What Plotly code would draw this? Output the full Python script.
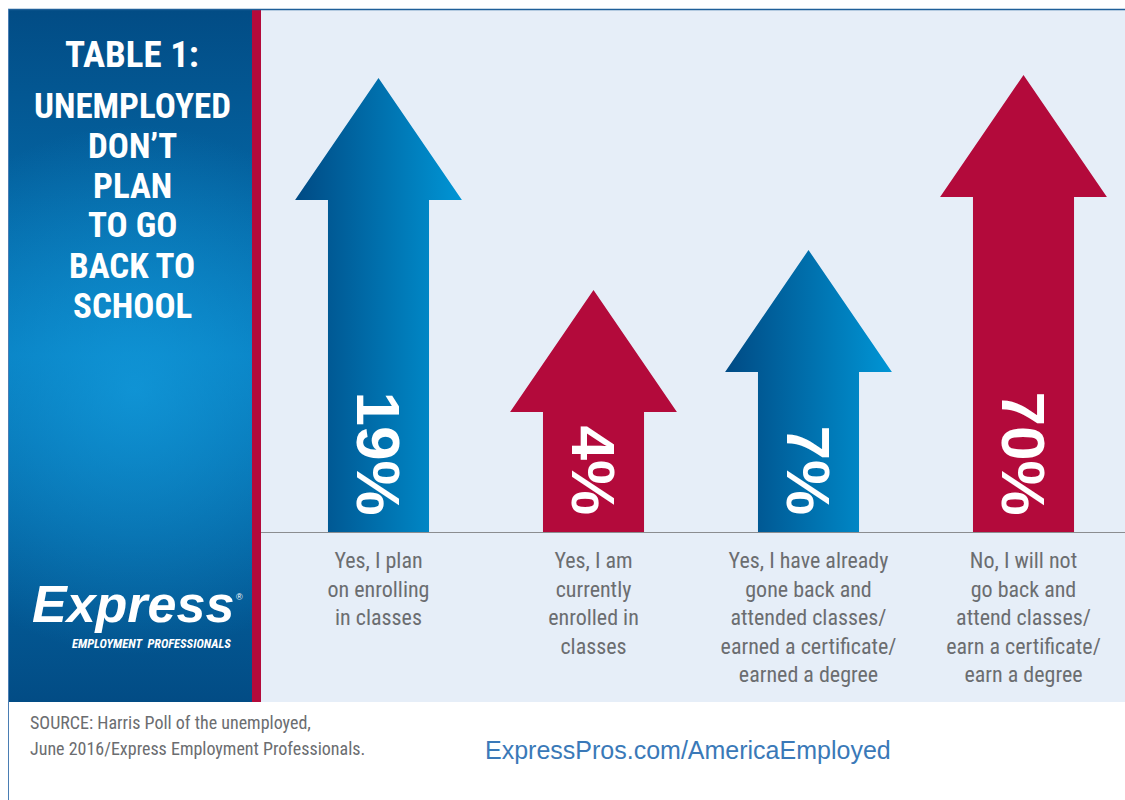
import plotly.graph_objects as go

# ---------------- data ----------------
categories = [
    "Yes, I plan<br>on enrolling<br>in classes",
    "Yes, I am<br>currently<br>enrolled in<br>classes",
    "Yes, I have already<br>gone back and<br>attended classes/<br>earned a certificate/<br>earned a degree",
    "No, I will not<br>go back and<br>attend classes/<br>earn a certificate/<br>earn a degree",
]
percent_values = [19, 4, 7, 70]
# drawn arrow heights (apex), in chart units
arrow_heights = [455, 243, 283, 458]
arrow_colors = ["blue", "red", "blue", "red"]

title_top = "TABLE 1:"
title_lines = ["UNEMPLOYED", "DON\u2019T", "PLAN", "TO GO", "BACK TO", "SCHOOL"]
source_lines = ["SOURCE: Harris Poll of the unemployed,", "June 2016/Express Employment Professionals."]
url_text = "ExpressPros.com/AmericaEmployed"

# ---------------- styling ----------------
W, H = 1125, 800
COND = "Roboto Condensed, Open Sans Condensed, Liberation Sans Narrow, sans-serif"
SANS = "Liberation Sans, Arial, sans-serif"
LIGHT_BG = "#e6eef8"
RED = "#b30a3b"
BLUE_SCALE = [[0, "#004a84"], [1, "#0095d5"]]
GRAY = "#6b6d70"


def X(px):
    return px / W


def Y(py):
    return 1 - py / H


fig = go.Figure()

# left decorative panel (canvas subplot x2/y2 in pixel units)
fig.add_trace(go.Scatter(
    x=[8, 252, 252, 8, 8], y=[9, 9, 702, 702, 9], xaxis="x2", yaxis="y2",
    mode="none", fill="toself", hoverinfo="skip", showlegend=False,
    fillgradient=dict(type="vertical", colorscale=[[0, "#024c85"], [0.5, "#0679bb"], [1, "#024c85"]]),
))
fig.add_trace(go.Scatter(
    x=[-130, 400, 400, -130, -130], y=[125, 125, 655, 655, 125], xaxis="x2", yaxis="y2",
    mode="none", fill="toself", hoverinfo="skip", showlegend=False,
    fillgradient=dict(type="radial", colorscale=[[0, "rgba(20,160,225,0.7)"], [1, "rgba(20,160,225,0)"]]),
))

# arrows
shaft_half = 0.235
head_half = 0.388
head_len = 122
for i, (h, c) in enumerate(zip(arrow_heights, arrow_colors)):
    base = h - head_len
    xs = [i - shaft_half, i - shaft_half, i - head_half, i, i + head_half, i + shaft_half, i + shaft_half, i - shaft_half]
    ys = [0, base, base, h, base, base, 0, 0]
    kw = dict(x=xs, y=ys, mode="none", fill="toself", hoverinfo="skip", showlegend=False)
    if c == "blue":
        kw["fillgradient"] = dict(type="horizontal", colorscale=BLUE_SCALE)
    else:
        kw["fillcolor"] = RED
    fig.add_trace(go.Scatter(**kw))

annotations = []
for i, v in enumerate(percent_values):
    annotations.append(dict(
        x=i, y=16, xref="x", yref="y", text=f"<b>{v}%</b>", textangle=90,
        showarrow=False, xanchor="center", yanchor="bottom",
        font=dict(family=SANS, size=62, color="white"),
    ))

# title
annotations.append(dict(x=X(132), y=Y(54), xref="paper", yref="paper", text=f"<b>{title_top}</b>",
                        showarrow=False, xanchor="center", yanchor="middle",
                        font=dict(family=COND, size=37, color="white")))
for k, line in enumerate(title_lines):
    annotations.append(dict(x=X(132), y=Y(106 + 40 * k), xref="paper", yref="paper", text=f"<b>{line}</b>",
                            showarrow=False, xanchor="center", yanchor="middle",
                            font=dict(family=COND, size=35, color="white")))

# logo
annotations.append(dict(x=X(133), y=Y(604), xref="paper", yref="paper", text="<b><i>Express</i></b>",
                        showarrow=False, xanchor="center", yanchor="middle",
                        font=dict(family=SANS, size=52, color="white")))
annotations.append(dict(x=X(239), y=Y(597), xref="paper", yref="paper", text="\u00ae",
                        showarrow=False, xanchor="center", yanchor="middle",
                        font=dict(family=SANS, size=9, color="white")))
annotations.append(dict(x=X(151), y=Y(643), xref="paper", yref="paper",
                        text="<b><i>EMPLOYMENT  PROFESSIONALS</i></b>",
                        showarrow=False, xanchor="center", yanchor="middle",
                        font=dict(family=COND, size=12.5, color="white")))

# footer
for k, line in enumerate(source_lines):
    annotations.append(dict(x=X(28), y=Y(722 + 26 * k), xref="paper", yref="paper", text=line,
                            showarrow=False, xanchor="left", yanchor="middle",
                            font=dict(family=COND, size=18, color=GRAY)))
annotations.append(dict(x=X(688), y=Y(750), xref="paper", yref="paper", text=url_text,
                        showarrow=False, xanchor="center", yanchor="middle",
                        font=dict(family=SANS, size=25, color="#3a79b8")))

shapes = [
    dict(type="rect", xref="paper", yref="paper", x0=X(261), x1=1, y0=Y(702), y1=Y(9),
         fillcolor=LIGHT_BG, line=dict(width=0), layer="below"),
    dict(type="rect", xref="paper", yref="paper", x0=X(252), x1=X(261), y0=Y(702), y1=Y(9),
         fillcolor=RED, line=dict(width=0), layer="below"),
    dict(type="line", xref="paper", yref="paper", x0=X(8), x1=1, y0=Y(9.5), y1=Y(9.5),
         line=dict(color="#1f5f99", width=1.5), layer="above"),
    dict(type="line", xref="paper", yref="paper", x0=X(8.5), x1=X(8.5), y0=0, y1=Y(9),
         line=dict(color="#4a7db3", width=1), layer="above"),
    dict(type="line", xref="paper", yref="y", x0=X(261), x1=1, y0=0, y1=0,
         line=dict(color="#8b8d90", width=2), layer="above"),
]

xmin = -117.5 / 215
xmax = 3 + 101.5 / 215
fig.update_layout(
    width=W, height=H, autosize=False,
    margin=dict(l=0, r=0, t=0, b=0),
    paper_bgcolor="white", plot_bgcolor="rgba(0,0,0,0)",
    showlegend=False,
    xaxis=dict(domain=[X(261), 1], range=[xmin, xmax], tickmode="array",
               tickvals=list(range(len(categories))), ticktext=categories,
               showgrid=False, zeroline=False, showline=False, ticks="", ticklabelstandoff=12,
               tickfont=dict(family=COND, size=22, color=GRAY), fixedrange=True),
    yaxis=dict(domain=[Y(533), Y(11)], range=[0, 522], visible=False, fixedrange=True),
    xaxis2=dict(domain=[X(8), X(252)], range=[8, 252], visible=False, anchor="y2", fixedrange=True),
    yaxis2=dict(domain=[Y(702), Y(9)], range=[702, 9], visible=False, anchor="x2", fixedrange=True),
    annotations=annotations,
    shapes=shapes,
)

fig.write_html("out.html")
